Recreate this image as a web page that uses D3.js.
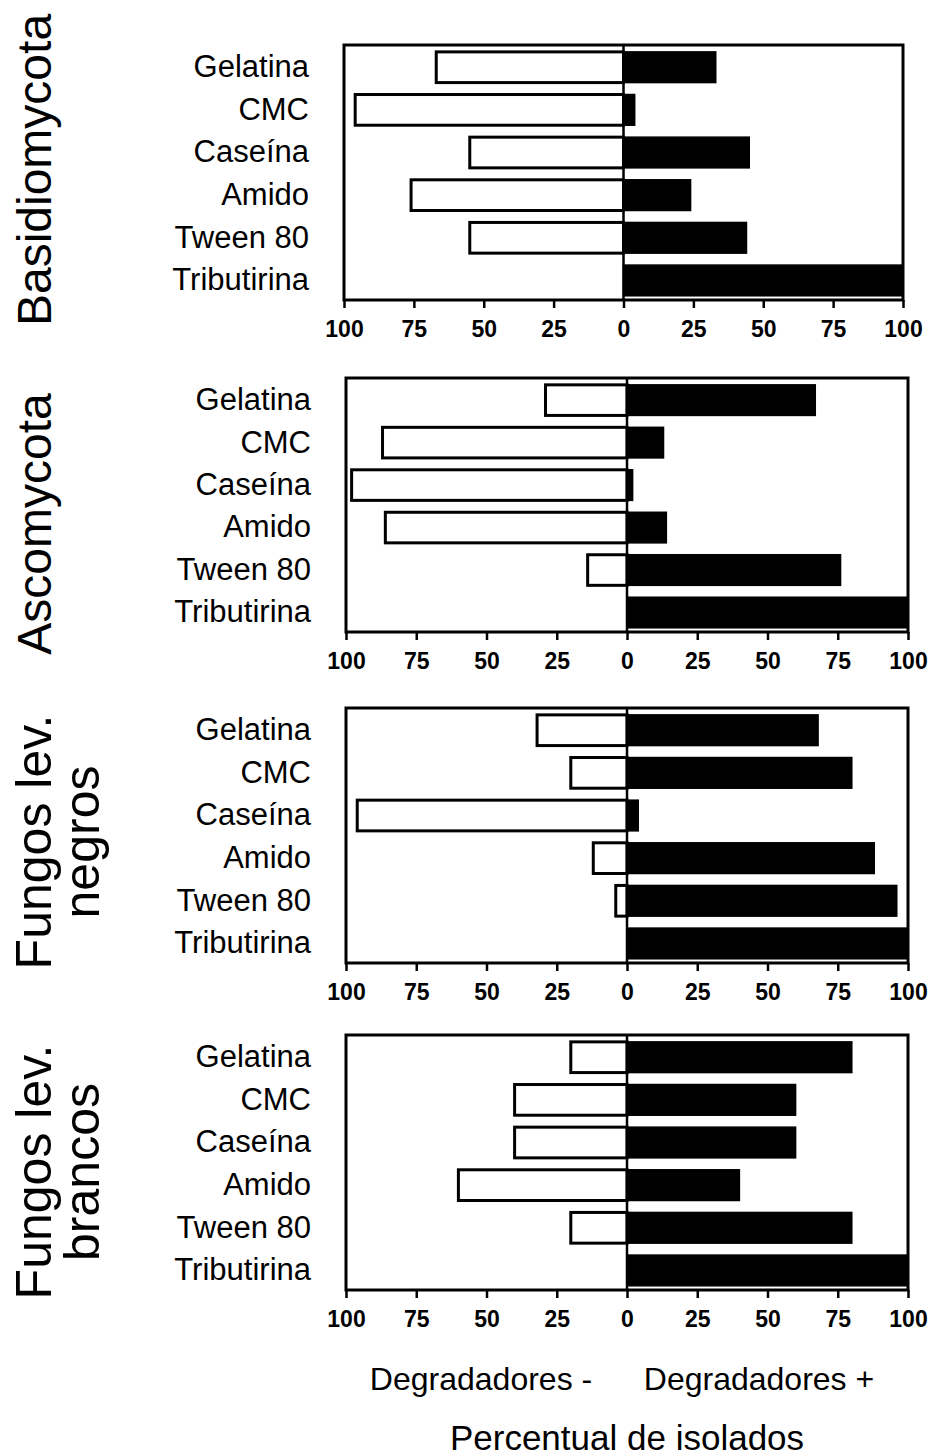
<!DOCTYPE html>
<html>
<head>
<meta charset="utf-8">
<script src="https://cdn.jsdelivr.net/npm/d3@7"></script>
<style>
  html, body { margin: 0; padding: 0; background: #fff; }
  svg { display: block; }
  text { font-family: "Liberation Sans", Arial, sans-serif; fill: #000; }
</style>
</head>
<body>
<svg id="chart" width="931" height="1456"></svg>
<script>
// Substrates tested (top to bottom in every panel)
const categories = ["Gelatina", "CMC", "Caseína", "Amido", "Tween 80", "Tributirina"];

// Fungal groups, one panel each (multi-line names split on "|")
const groupNames = ["Basidiomycota", "Ascomycota", "Fungos lev.|negros", "Fungos lev.|brancos"];

// Percent of isolates that do not degrade (left, white bars)
const negBasidio = [67, 96, 55, 76, 55, 0];
const negAsco    = [29, 87, 98, 86, 14, 0];
const negNegros  = [32, 20, 96, 12, 4, 0];
const negBrancos = [20, 40, 40, 60, 20, 0];

// Percent of isolates that degrade (right, black bars)
const posBasidio = [33, 4, 45, 24, 44, 100];
const posAsco    = [67, 13, 2, 14, 76, 100];
const posNegros  = [68, 80, 4, 88, 96, 100];
const posBrancos = [80, 60, 60, 40, 80, 100];

// Axis ticks (signed; labels show absolute value)
const tickValues = [-100, -75, -50, -25, 0, 25, 50, 75, 100];

// Bottom captions
const sideLabels = ["Degradadores -", "Degradadores +"];
const axisTitle = "Percentual de isolados";

const negSeries = [negBasidio, negAsco, negNegros, negBrancos];
const posSeries = [posBasidio, posAsco, posNegros, posBrancos];

// Panel frames and group-label placement
const panels = [
  { x0: 344, x1: 903, top: 45,   bottom: 300,  labelY: 170,  size: 48 },
  { x0: 346, x1: 908, top: 378,  bottom: 632,  labelY: 524,  size: 48 },
  { x0: 346, x1: 908, top: 708,  bottom: 963,  labelY: 842,  size: 50 },
  { x0: 346, x1: 908, top: 1035, bottom: 1290, labelY: 1172, size: 50 }
];

const svg = d3.select("#chart");

panels.forEach((p, i) => {
  const g = svg.append("g");

  const x = d3.scaleLinear().domain([-100, 100]).range([p.x0, p.x1]);
  const y = d3.scaleBand()
    .domain(categories)
    .range([p.top, p.bottom])
    .paddingInner(0.28)
    .paddingOuter(0.13)
    .align(0.62);

  const rows = categories.map((c, k) => ({ cat: c, neg: negSeries[i][k], pos: posSeries[i][k] }));

  // white bars: non-degrading isolates
  g.append("g").selectAll("rect")
    .data(rows.filter(d => d.neg > 0))
    .join("rect")
    .attr("x", d => x(-d.neg))
    .attr("y", d => y(d.cat))
    .attr("width", d => x(0) - x(-d.neg))
    .attr("height", y.bandwidth())
    .attr("fill", "#fff")
    .attr("stroke", "#000")
    .attr("stroke-width", 3);

  // black bars: degrading isolates
  g.append("g").selectAll("rect")
    .data(rows.filter(d => d.pos > 0))
    .join("rect")
    .attr("x", x(0))
    .attr("y", d => y(d.cat))
    .attr("width", d => x(d.pos) - x(0))
    .attr("height", y.bandwidth())
    .attr("fill", "#000")
    .attr("stroke", "#000")
    .attr("stroke-width", 1.5);

  // frame
  g.append("rect")
    .attr("x", p.x0).attr("y", p.top)
    .attr("width", p.x1 - p.x0).attr("height", p.bottom - p.top)
    .attr("fill", "none")
    .attr("stroke", "#000")
    .attr("stroke-width", 3);

  // zero line
  g.append("line")
    .attr("x1", x(0)).attr("x2", x(0))
    .attr("y1", p.top).attr("y2", p.bottom)
    .attr("stroke", "#000")
    .attr("stroke-width", 2.5);

  // bottom axis
  const xAxis = d3.axisBottom(x)
    .tickValues(tickValues)
    .tickFormat(d => Math.abs(d))
    .tickSize(8)
    .tickSizeOuter(0)
    .tickPadding(13);
  const ax = g.append("g").attr("transform", `translate(0,${p.bottom})`).call(xAxis);
  ax.select(".domain").remove();
  ax.selectAll(".tick line").attr("stroke", "#000").attr("stroke-width", 2.5);
  ax.selectAll(".tick text")
    .attr("font-family", "Liberation Sans, Arial, sans-serif")
    .attr("font-size", 23)
    .attr("font-weight", "bold")
    .attr("fill", "#000");

  // category labels
  const yAxis = d3.axisLeft(y).tickSize(0).tickPadding(35);
  const ay = g.append("g").attr("transform", `translate(${p.x0},0)`).call(yAxis);
  ay.select(".domain").remove();
  ay.selectAll(".tick text")
    .attr("font-family", "Liberation Sans, Arial, sans-serif")
    .attr("font-size", 31)
    .attr("fill", "#000");

  // group label, rotated
  const lines = groupNames[i].split("|");
  const gl = g.append("text")
    .attr("transform", `translate(51,${p.labelY}) rotate(-90)`)
    .attr("text-anchor", "middle")
    .attr("font-size", p.size);
  lines.forEach((ln, j) => {
    gl.append("tspan").attr("x", 0).attr("y", j * 48).text(ln);
  });
});

// captions under the last panel
svg.append("text").attr("x", 481).attr("y", 1390).attr("text-anchor", "middle")
  .attr("font-size", 32).text(sideLabels[0]);
svg.append("text").attr("x", 759).attr("y", 1390).attr("text-anchor", "middle")
  .attr("font-size", 32).text(sideLabels[1]);
svg.append("text").attr("x", 627).attr("y", 1450).attr("text-anchor", "middle")
  .attr("font-size", 35).text(axisTitle);
</script>
</body>
</html>
